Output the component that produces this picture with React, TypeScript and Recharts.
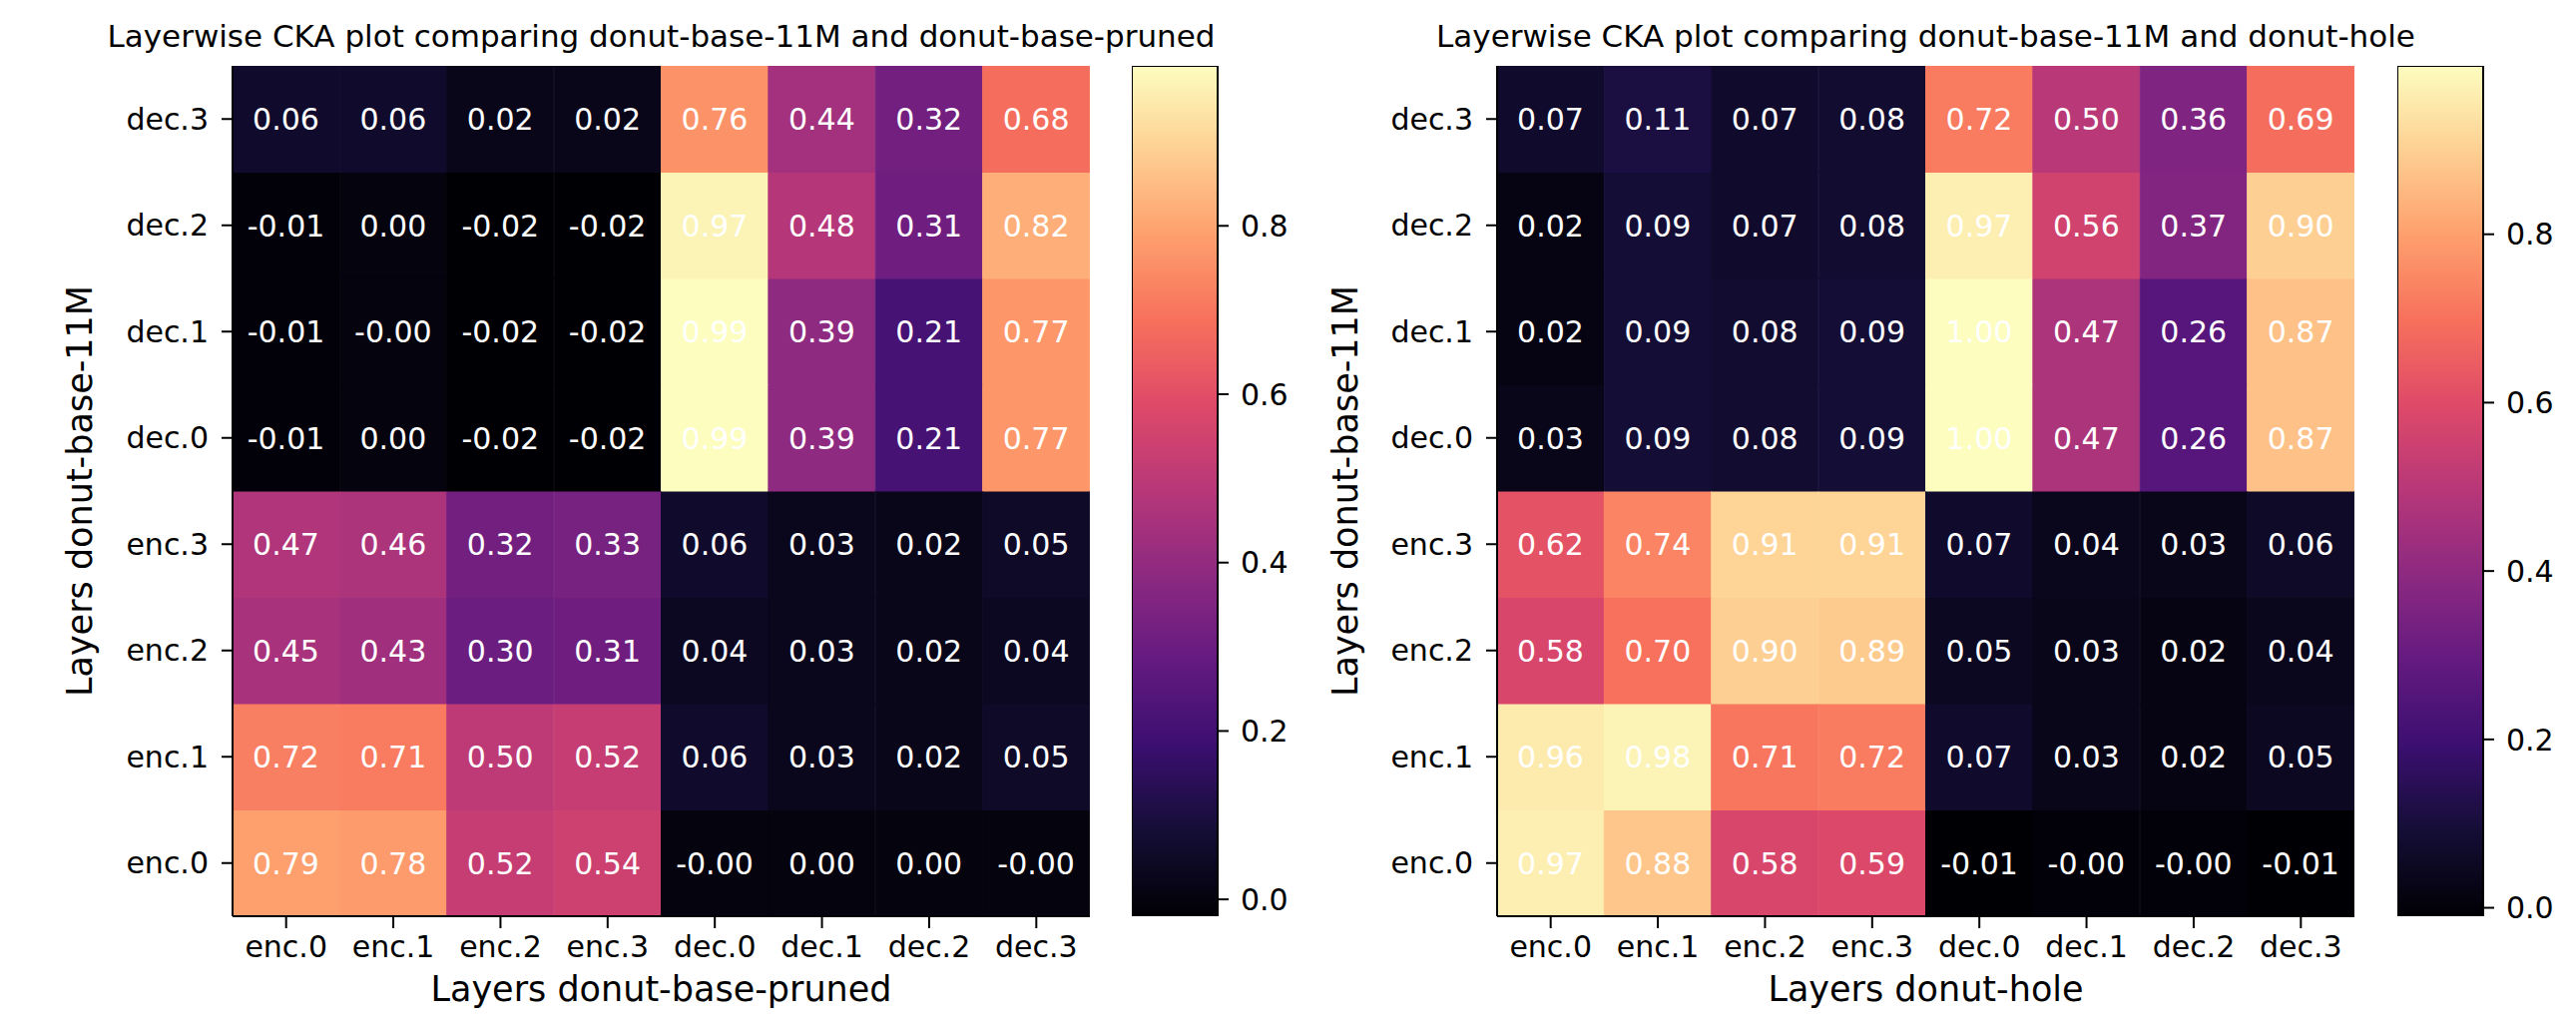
import React from 'react';
import { BarChart, Bar, XAxis, YAxis, Cell, LabelList } from 'recharts';

// ---------- data ----------
const layerLabels = ['enc.0', 'enc.1', 'enc.2', 'enc.3', 'dec.0', 'dec.1', 'dec.2', 'dec.3'];

// rows from enc.0 (bottom) to dec.3 (top); columns enc.0 .. dec.3
const prunedCka: number[][] = [
  [0.79, 0.78, 0.52, 0.54, -0, 0.0, 0.0, -0],
  [0.72, 0.71, 0.5, 0.52, 0.06, 0.03, 0.02, 0.05],
  [0.45, 0.43, 0.3, 0.31, 0.04, 0.03, 0.02, 0.04],
  [0.47, 0.46, 0.32, 0.33, 0.06, 0.03, 0.02, 0.05],
  [-0.01, 0.0, -0.02, -0.02, 0.99, 0.39, 0.21, 0.77],
  [-0.01, -0, -0.02, -0.02, 0.99, 0.39, 0.21, 0.77],
  [-0.01, 0.0, -0.02, -0.02, 0.97, 0.48, 0.31, 0.82],
  [0.06, 0.06, 0.02, 0.02, 0.76, 0.44, 0.32, 0.68],
];

const holeCka: number[][] = [
  [0.97, 0.88, 0.58, 0.59, -0.01, -0, -0, -0.01],
  [0.96, 0.98, 0.71, 0.72, 0.07, 0.03, 0.02, 0.05],
  [0.58, 0.7, 0.9, 0.89, 0.05, 0.03, 0.02, 0.04],
  [0.62, 0.74, 0.91, 0.91, 0.07, 0.04, 0.03, 0.06],
  [0.03, 0.09, 0.08, 0.09, 1.0, 0.47, 0.26, 0.87],
  [0.02, 0.09, 0.08, 0.09, 1.0, 0.47, 0.26, 0.87],
  [0.02, 0.09, 0.07, 0.08, 0.97, 0.56, 0.37, 0.9],
  [0.07, 0.11, 0.07, 0.08, 0.72, 0.5, 0.36, 0.69],
];

const prunedRange = [-0.02, 0.99];
const holeRange = [-0.01, 1.0];
const colorbarTicks = [0, 0.2, 0.4, 0.6, 0.8];

const titles = [
  'Layerwise CKA plot comparing donut-base-11M and donut-base-pruned',
  'Layerwise CKA plot comparing donut-base-11M and donut-hole',
];
const xTitles = ['Layers donut-base-pruned', 'Layers donut-hole'];
const yTitle = 'Layers donut-base-11M';

// ---------- magma colormap ----------
const magmaStops = [
  '#000004', '#140e36', '#3b0f70', '#641a80', '#8c2981', '#b73779',
  '#de4968', '#f7705c', '#fe9f6d', '#fecf92', '#fcfdbf',
];
const hexToRgb = (h: string) => [1, 3, 5].map((i) => parseInt(h.slice(i, i + 2), 16));
const magma = (t: number) => {
  const tt = Math.max(0, Math.min(1, t)) * (magmaStops.length - 1);
  const i = Math.min(Math.floor(tt), magmaStops.length - 2);
  const f = tt - i;
  const a = hexToRgb(magmaStops[i]);
  const b = hexToRgb(magmaStops[i + 1]);
  const c = a.map((v, k) => Math.round(v + (b[k] - v) * f));
  return `rgb(${c[0]},${c[1]},${c[2]})`;
};

const FONT = 'DejaVu Sans';
const fmt = (v: number) =>
  v < 0 || Object.is(v, -0) ? '-' + Math.abs(v).toFixed(2) : v.toFixed(2);

const rowTicks = layerLabels.map((_, i) => i + 0.5);

function Heatmap({ matrix, range, left }: { matrix: number[][]; range: number[]; left: number }) {
  const [vmin, vmax] = range;
  const data = layerLabels.map((name, c) => {
    const o: any = { name };
    matrix.forEach((row, r) => {
      o['r' + r] = 1;
      o['v' + r] = row[c];
    });
    return o;
  });
  const cellLabel = (props: any) => {
    const vb = props.viewBox && props.viewBox.width != null ? props.viewBox : props;
    const cx = Number(vb.x) + Number(vb.width) / 2;
    const cy = Number(vb.y) + Number(vb.height) / 2;
    return (
      <text x={cx} y={cy} dy="0.36em" textAnchor="middle" fill="#ffffff" fontSize={30} fontFamily={FONT}>
        {fmt(props.value)}
      </text>
    );
  };
  const tickStyle = { fill: '#000', fontSize: 30, fontFamily: FONT };
  const line = { stroke: '#000', strokeWidth: 2 };
  return (
    <div style={{ position: 'absolute', left, top: 0 }}>
      <BarChart
        width={1092}
        height={1025}
        data={data}
        margin={{ top: 66, right: 0, left: 0, bottom: 0 }}
        barCategoryGap={0}
        barGap={0}
      >
        <XAxis
          dataKey="name"
          height={107}
          interval={0}
          tickSize={12}
          tickMargin={8}
          tick={tickStyle}
          tickLine={line}
          axisLine={line}
        />
        <XAxis xAxisId="top" orientation="top" dataKey="name" height={0} tick={false} tickLine={false} axisLine={line} />
        <YAxis
          type="number"
          domain={[0, 8]}
          ticks={rowTicks}
          interval={0}
          allowDataOverflow
          width={233}
          tickSize={11}
          tickMargin={13}
          tick={tickStyle}
          tickLine={line}
          axisLine={line}
          tickFormatter={(v: number) => layerLabels[Math.floor(v)]}
        />
        <YAxis yAxisId="right" orientation="right" type="number" domain={[0, 8]} width={0} tick={false} tickLine={false} axisLine={line} />
        {matrix.map((row, r) => (
          <Bar key={r} dataKey={'r' + r} stackId="s" isAnimationActive={false}>
            {row.map((v, c) => {
              const col = magma((v - vmin) / (vmax - vmin));
              return <Cell key={c} fill={col} stroke={col} strokeWidth={1} />;
            })}
            <LabelList dataKey={'v' + r} content={cellLabel} />
          </Bar>
        ))}
      </BarChart>
    </div>
  );
}

function Colorbar({ range, left, id }: { range: number[]; left: number; id: string }) {
  const data = [{ name: 'cb', range: [range[0], range[1]] }];
  return (
    <div style={{ position: 'absolute', left, top: 0 }}>
      <BarChart
        width={86 + 100}
        height={1025}
        data={data}
        margin={{ top: 66, right: 0, left: 0, bottom: 107 }}
        barCategoryGap={0}
      >
        <defs>
          <linearGradient id={id} x1="0" y1="1" x2="0" y2="0">
            {magmaStops.map((c, i) => (
              <stop key={i} offset={i / (magmaStops.length - 1)} stopColor={c} />
            ))}
          </linearGradient>
        </defs>
        <XAxis dataKey="name" hide />
        <YAxis
          orientation="right"
          type="number"
          domain={range}
          allowDataOverflow
          ticks={colorbarTicks}
          interval={0}
          width={100}
          axisLine={false}
          tickSize={11}
          tickMargin={12}
          tickLine={{ stroke: '#000', strokeWidth: 2 }}
          tick={{ fill: '#000', fontSize: 30, fontFamily: FONT }}
          tickFormatter={(v: number) => v.toFixed(1)}
        />
        <Bar dataKey="range" fill={`url(#${id})`} stroke="#000" strokeWidth={2} isAnimationActive={false} />
      </BarChart>
    </div>
  );
}

export default function App() {
  const centers = [662.5, 1929.5];
  const yLabelX = [92, 1360];
  return (
    <div style={{ position: 'absolute', left: 0, top: 0, width: 2581, height: 1025, background: '#fff', overflow: 'hidden' }}>
      <Heatmap matrix={prunedCka} range={prunedRange} left={0} />
      <Colorbar range={prunedRange} left={1134} id="magmaL" />
      <Heatmap matrix={holeCka} range={holeRange} left={1267} />
      <Colorbar range={holeRange} left={2402} id="magmaR" />
      <svg width={2581} height={1025} style={{ position: 'absolute', left: 0, top: 0, pointerEvents: 'none' }}>
        {centers.map((cx, i) => (
          <g key={i} fontFamily={FONT} fill="#000">
            <text x={cx} y={47} textAnchor="middle" fontSize={31}>
              {titles[i]}
            </text>
            <text x={cx} y={1003} textAnchor="middle" fontSize={35}>
              {xTitles[i]}
            </text>
            <text
              x={yLabelX[i]}
              y={492}
              textAnchor="middle"
              fontSize={35}
              transform={`rotate(-90 ${yLabelX[i]} 492)`}
            >
              {yTitle}
            </text>
          </g>
        ))}
      </svg>
    </div>
  );
}
